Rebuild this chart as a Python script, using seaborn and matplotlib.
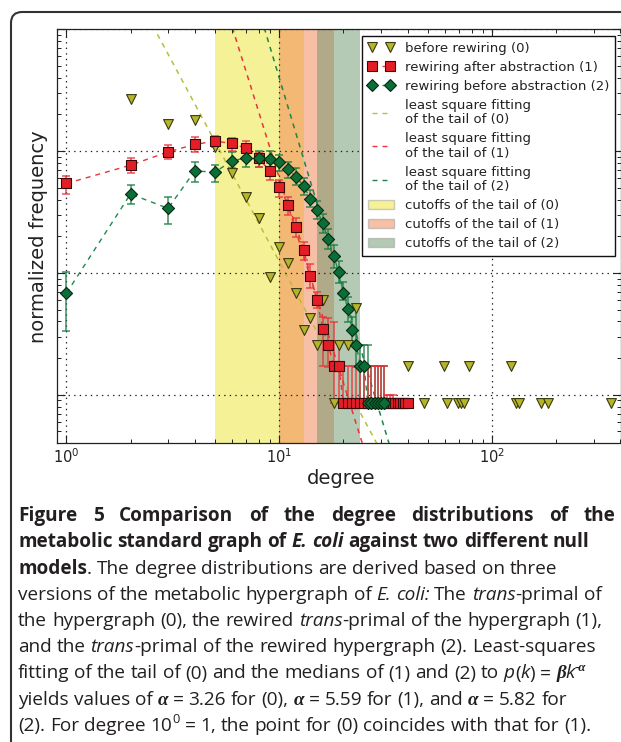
import re
import numpy as np
import pandas as pd
import matplotlib
matplotlib.use("Agg")
import matplotlib.pyplot as plt
import seaborn as sns
from matplotlib.lines import Line2D
from matplotlib.patches import Patch, FancyBboxPatch
from matplotlib.ticker import NullFormatter, LogLocator
from matplotlib.transforms import IdentityTransform

# ---------------- data ----------------
deg0 = [1, 2, 3, 4, 5, 6, 7, 8, 9, 10, 11, 12, 13, 14, 15, 16, 18, 19, 21, 23,
        40, 48, 59, 61, 69, 71, 74, 78, 123, 129, 134, 170, 182, 362]
freq0 = [0.0543, 0.270, 0.1656, 0.1795, 0.1084, 0.0664, 0.0417, 0.0281, 0.00933, 0.0162,
         0.0120, 0.00682, 0.00341, 0.00430, 0.00257, 0.00601, 0.000855, 0.00256, 0.00256, 0.00514,
         0.00171, 0.000855, 0.00171, 0.000855, 0.000855, 0.000855, 0.000855, 0.00171,
         0.00171, 0.000855, 0.000855, 0.000855, 0.000855, 0.000855]

deg1 = [1, 2, 3, 4, 5, 6, 7, 8, 9, 10, 11, 12, 13, 14, 15, 16, 17, 18, 19, 20,
        21, 22, 23, 24, 25, 26, 27, 28, 29, 30, 31, 32, 33, 34, 35, 36, 37, 38, 39, 40]
freq1 = [0.0543, 0.0767, 0.0986, 0.1135, 0.1208, 0.1156, 0.1052, 0.0871, 0.0690, 0.0509,
         0.0361, 0.0240, 0.01545, 0.00951, 0.00601, 0.00348, 0.00257, 0.00171, 0.00171, 0.000855,
         0.000855, 0.000855, 0.000855, 0.000855, 0.000855, 0.000855, 0.000855, 0.000855, 0.000855, 0.000855,
         0.000855, 0.000855, 0.000855, 0.000855, 0.000855, 0.000855, 0.000855, 0.000855, 0.000855, 0.000855]
lo1 = [0.0442, 0.0656, 0.0855, 0.0986, 0.1084, 0.1005, 0.0897, 0.0743, 0.0578, 0.0422,
       0.0299, 0.0199, 0.0129, 0.00759, 0.00514, 0.00171, 0.00169, 0.000855, 0.000855, 0.000855,
       0.000855, 0.000855, 0.000855, 0.000855, 0.000855, 0.000855, 0.000855, 0.000855, 0.000855, 0.000855,
       0.000855, 0.000855, 0.000855, 0.000855, 0.000855, 0.000855, 0.000855, 0.000855, 0.000855, 0.000855]
hi1 = [0.0628, 0.0871, 0.1119, 0.1309, 0.1334, 0.1294, 0.1213, 0.0986, 0.0793, 0.0578,
       0.0422, 0.0281, 0.0178, 0.01175, 0.00703, 0.00439, 0.00426, 0.00399, 0.00265, 0.00171,
       0.00171, 0.00171, 0.00171, 0.00171, 0.00171, 0.00171, 0.00171, 0.00171, 0.00171, 0.00171,
       0.00171, 0.00100, 0.00100, 0.00100, 0.000855, 0.000855, 0.000855, 0.000855, 0.000855, 0.000855]

deg2 = [1, 2, 3, 4, 5, 6, 7, 8, 9, 10, 11, 12, 13, 14, 15, 16, 17, 18, 19, 20,
        21, 22, 23, 24, 25, 26, 27, 28, 29, 30, 31]
freq2 = [0.00682, 0.0445, 0.0339, 0.0685, 0.0676, 0.0832, 0.0881, 0.0871, 0.0859, 0.0807,
         0.0708, 0.0615, 0.0516, 0.0405, 0.0328, 0.0255, 0.0189, 0.01377, 0.01014, 0.00682,
         0.00507, 0.00341, 0.00254, 0.00171, 0.00171, 0.000855, 0.000855, 0.000855, 0.000855, 0.000855,
         0.000855]
lo2 = [0.00337, 0.0368, 0.0252, 0.0560, 0.0560, 0.0721, 0.0743, 0.0743, 0.0724, 0.0692,
       0.0603, 0.0525, 0.0437, 0.0347, 0.0275, 0.0214, 0.01585, 0.01096, 0.00832, 0.00601,
       0.00398, 0.00257, 0.00170, 0.000855, 0.000855, 0.000855, 0.000855, 0.000855, 0.000855, 0.000855,
       0.000855]
hi2 = [0.01026, 0.0526, 0.0417, 0.0807, 0.0773, 0.0986, 0.100, 0.100, 0.100, 0.0933,
       0.0813, 0.0724, 0.0603, 0.0479, 0.0389, 0.0302, 0.0229, 0.0170, 0.01259, 0.00849,
       0.00631, 0.00437, 0.00525, 0.00257, 0.00257, 0.00257, 0.00171, 0.00171, 0.00171, 0.00171,
       0.00171]

fit_alpha = [3.26, 5.59, 5.82]
fit_beta = [22.5, 2.34e4, 2.62e5]
cutoff_lo = [5.0, 10.0, 15.0]
cutoff_hi = [13.1, 18.0, 24.0]

series_labels = ["before rewiring (0)", "rewiring after abstraction (1)",
                 "rewiring before abstraction (2)"]
fit_labels = ["least square fitting\nof the tail of (0)", "least square fitting\nof the tail of (1)",
              "least square fitting\nof the tail of (2)"]
cut_labels = ["cutoffs of the tail of (0)", "cutoffs of the tail of (1)", "cutoffs of the tail of (2)"]

caption_lines = [
    [("Figure 5 Comparison of the degree distributions of the", "b")],
    [("metabolic standard graph of ", "b"), ("E. coli", "bi"), (" against two different null", "b")],
    [("models", "b"), (". The degree distributions are derived based on three", "r")],
    [("versions of the metabolic hypergraph of ", "r"), ("E. coli:", "i"), (" The ", "r"),
     ("trans", "i"), ("-primal of", "r")],
    [("the hypergraph (0), the rewired ", "r"), ("trans", "i"), ("-primal of the hypergraph (1),", "r")],
    [("and the ", "r"), ("trans", "i"), ("-primal of the rewired hypergraph (2). Least-squares", "r")],
    [("fitting of the tail of (0) and the medians of (1) and (2) to ", "r"), ("p", "i"), ("(", "r"),
     ("k", "i"), (") = ", "r"), ("\u03b2", "g"), ("k", "i"), ("-\u03b1", "gsup")],
    [("yields values of ", "r"), ("\u03b1", "g"), (" = 3.26 for (0), ", "r"), ("\u03b1", "g"),
     (" = 5.59 for (1), and ", "r"), ("\u03b1", "g"), (" = 5.82 for", "r")],
    [("(2). For degree 10", "r"), ("0", "sup"), (" = 1, the point for (0) coincides with that for (1).", "r")],
]

# ---------------- style ----------------
sns.set_style("ticks", {"xtick.direction": "in", "ytick.direction": "in"})
plt.rcParams["font.family"] = ["DejaVu Sans"]
plt.rcParams["lines.scale_dashes"] = False

W, H = 621, 742
fig = plt.figure(figsize=(W / 100, H / 100), dpi=100)
fig.patch.set_facecolor("white")

ax_l, ax_r, ax_t, ax_b = 56.7, 620.5, 29.3, 443.3
ax = fig.add_axes([ax_l / W, 1 - ax_b / H, (ax_r - ax_l) / W, (ax_b - ax_t) / H])
ax.set_xscale("log")
ax.set_yscale("log")
ax.set_xlim(0.9, 400)
ax.set_ylim(4e-4, 1.0)

c_tri = "#b5b52a"
c_red = "#e41e26"
c_grn = "#0b6e37"
c_fit = ["#b8be3c", "#e8343c", "#21844c"]
c_span = ["#ede531", "#f38151", "#6b976b"]

# cutoff spans
for lo, hi, c in zip(cutoff_lo, cutoff_hi, c_span):
    ax.axvspan(lo, hi, color=c, alpha=0.5, lw=0, zorder=0.5)

# grid
ax.set_axisbelow(False)
ax.grid(True, which="major", linestyle=(0, (1, 3)), color="#222222", linewidth=0.9, zorder=1)

# fitted power laws
xfit = np.logspace(0, 2, 200)
for a, b, c in zip(fit_alpha, fit_beta, c_fit):
    fit_df = pd.DataFrame({"k": xfit, "p": b * xfit ** (-a)})
    sns.lineplot(data=fit_df, x="k", y="p", ax=ax, color=c, lw=1.1, dashes=False,
                 linestyle=(0, (3.6, 3.6)), estimator=None, sort=False, zorder=2)

df1 = pd.DataFrame({"k": deg1, "p": freq1, "lo": lo1, "hi": hi1})
df2 = pd.DataFrame({"k": deg2, "p": freq2, "lo": lo2, "hi": hi2})
df0 = pd.DataFrame({"k": deg0, "p": freq0})

# connecting dashed lines
sns.lineplot(data=df2, x="k", y="p", ax=ax, color="#1f8a4c", lw=1.0, linestyle=(0, (3.6, 3.6)),
             estimator=None, sort=False, zorder=3)
sns.lineplot(data=df1, x="k", y="p", ax=ax, color="#e8343c", lw=1.0, linestyle=(0, (3.6, 3.6)),
             estimator=None, sort=False, zorder=3)

# error bars
for df, ec in ((df2, "#1a7c44"), (df1, "#e8333b")):
    yerr = np.vstack([df["p"] - df["lo"], df["hi"] - df["p"]])
    ax.errorbar(df["k"], df["p"], yerr=yerr, fmt="none", ecolor=ec, elinewidth=1.1,
                capsize=2.8, capthick=1.1, alpha=0.85, zorder=4)

# markers
sns.scatterplot(data=df0, x="k", y="p", ax=ax, marker="v", s=50, color=c_tri,
                edgecolor="#3a3a10", linewidth=0.8, zorder=5, legend=False)
sns.scatterplot(data=df1, x="k", y="p", ax=ax, marker="s", s=50, color=c_red,
                edgecolor="#3a0a0a", linewidth=0.8, zorder=6, legend=False)
sns.scatterplot(data=df2, x="k", y="p", ax=ax, marker="D", s=38, color=c_grn,
                edgecolor="#052a14", linewidth=0.8, zorder=7, legend=False)

# axes cosmetics
ax.set_xlim(0.9, 400)
ax.set_ylim(4e-4, 1.0)
for s in ax.spines.values():
    s.set_color("#222222")
    s.set_linewidth(0.9)
    s.set_zorder(10)
ax.xaxis.set_major_locator(LogLocator(base=10, numticks=10))
ax.yaxis.set_major_locator(LogLocator(base=10, numticks=10))
ax.xaxis.set_minor_locator(LogLocator(base=10, subs=np.arange(2, 10), numticks=20))
ax.yaxis.set_minor_locator(LogLocator(base=10, subs=np.arange(2, 10), numticks=20))
ax.yaxis.set_major_formatter(NullFormatter())
ax.yaxis.set_minor_formatter(NullFormatter())
ax.xaxis.set_minor_formatter(NullFormatter())
ax.tick_params(which="major", direction="in", length=6, width=0.8, top=True, right=True,
               labelsize=10.5, pad=3, colors="#222222")
ax.tick_params(which="minor", direction="in", length=3, width=0.7, top=True, right=True,
               colors="#222222")

ax.set_xlabel("degree", fontsize=14, color="#222222", va="center")
ax.xaxis.set_label_coords(0.504, -0.086)
ax.set_ylabel("normalized frequency", fontsize=14, color="#222222", va="center")
ax.yaxis.set_label_coords(-0.033, 0.50)

# legend
h_series = [
    Line2D([], [], ls="none", marker="v", ms=7.0, mfc=c_tri, mec="#3a3a10", mew=0.8),
    Line2D([], [], ls=(0, (3.6, 3.6)), lw=1.0, color="#e8343c", marker="s", ms=7.0, mfc=c_red,
           mec="#3a0a0a", mew=0.8),
    Line2D([], [], ls=(0, (3.6, 3.6)), lw=1.0, color="#1f8a4c", marker="D", ms=6.0, mfc=c_grn,
           mec="#052a14", mew=0.8),
]
h_fit = [Line2D([], [], ls=(0, (3.6, 3.6)), lw=1.0, color=c) for c in c_fit]
h_cut = [Patch(facecolor=c, alpha=0.5, edgecolor="#999999", lw=1.0) for c in c_span]
leg = ax.legend(h_series + h_fit + h_cut, series_labels + fit_labels + cut_labels,
                loc="upper right", bbox_to_anchor=(0.990, 0.984), borderaxespad=0,
                numpoints=2, fontsize=9.5, labelspacing=0.45, handlelength=2.0,
                handletextpad=0.8, borderpad=0.45, frameon=True, fancybox=False,
                edgecolor="#111111", framealpha=1)
leg.get_frame().set_linewidth(1.0)
leg.set_zorder(20)
for t in leg.get_texts():
    t.set_color("#222222")
    t.set_linespacing(1.15)

# outer rounded box
box = FancyBboxPatch((11, -40), 700, H - 12 + 40, boxstyle="round,pad=0,rounding_size=11",
                     transform=IdentityTransform(), fill=False, edgecolor="#333333", lw=1.5)
fig.add_artist(box)

# ---------------- caption ----------------
renderer = fig.canvas.get_renderer()
TXT = "#231f20"


def props_for(style):
    if style in ("g", "gsup"):
        return dict(family="Liberation Serif", weight="bold", style="italic", color=TXT)
    d = dict(family="Open Sans", color=TXT)
    if "b" in style:
        d["weight"] = "bold"
    if "i" in style:
        d["style"] = "italic"
    return d


def width_of(s, style, size):
    t = fig.text(0, 0, s, fontsize=size, **props_for(style))
    w = t.get_window_extent(renderer).width
    t.remove()
    return w


def tokens_of(line):
    toks = []
    for text, style in line:
        for p in re.split(r"( )", text):
            if p:
                toks.append((p, style))
    return toks


def token_widths(toks, size):
    ws = []
    for p, style in toks:
        sz = size * 0.68 if "sup" in style else size
        if p == " ":
            ws.append(width_of("n n", style, sz) - width_of("nn", style, sz))
        else:
            ws.append(width_of(p, style, sz))
    return ws


base = 12.0
w4 = sum(token_widths(tokens_of(caption_lines[3]), base))
cap_size = base * 583.0 / w4

x0 = 18.0
for i, line in enumerate(caption_lines):
    toks = tokens_of(line)
    ws = token_widths(toks, cap_size)
    extra = 0.0
    if i == 0:
        nsp = sum(1 for p, _ in toks if p == " ")
        extra = (598.0 - sum(ws)) / nsp
    yb = 521.0 + 26.25 * i
    x = x0
    for (p, style), w in zip(toks, ws):
        if p == " ":
            x += w + extra
            continue
        sz = cap_size
        dy = 0.0
        if "sup" in style:
            sz = cap_size * 0.68
            dy = cap_size / 0.72 * 0.42
        fig.text(x / W, 1 - (yb - dy) / H, p, fontsize=sz, ha="left", va="baseline",
                 **props_for(style))
        x += w

fig.savefig("out.png", dpi=100, facecolor="white")
